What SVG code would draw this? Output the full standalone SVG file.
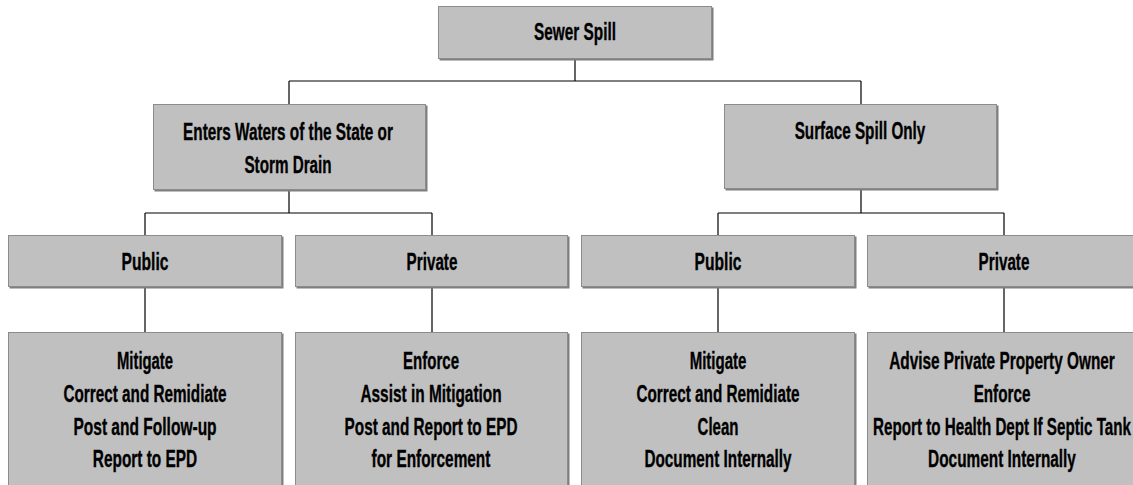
<svg xmlns="http://www.w3.org/2000/svg" width="1133" height="485" viewBox="0 0 1133 485">
<style>
.box{fill:#c0c0c0;stroke:#8c8c8c;stroke-width:1}
.sh{fill:#7f7f7f}
.t{font-family:"Liberation Sans",Arial,sans-serif;font-weight:bold;font-size:23px;fill:#000;stroke:#000;stroke-width:0.35;text-anchor:middle}
.c{stroke:#000;stroke-width:1.2;fill:none}
</style>
<rect width="1133" height="485" fill="#fff"/>
<g id="connectors">
<path class="c" d="M575,59V81M289,81H861M289,81V104M861,81V104"/>
<path class="c" d="M289,190V213M145,213H432M145,213V235M432,213V235"/>
<path class="c" d="M861,189V213M718,213H1004M718,213V235M1004,213V235"/>
<path class="c" d="M145,287V332M432,287V332M718,287V332M1004,287V332"/>
</g>
<g id="n-sewer">
<rect class="sh" x="439.5" y="7.5" width="274" height="53"/>
<rect class="box" x="438.5" y="6.5" width="273" height="52"/>
<g transform="translate(575,0) scale(0.66,1)">
<text class="t" x="0" y="40" textLength="124" lengthAdjust="spacingAndGlyphs">Sewer Spill</text>
</g>
</g>
<g id="n-enters">
<rect class="sh" x="154.5" y="105.5" width="273" height="86"/>
<rect class="box" x="153.5" y="104.5" width="272" height="85"/>
<g transform="translate(288,0) scale(0.66,1)">
<text class="t" x="0" y="140" textLength="318" lengthAdjust="spacingAndGlyphs">Enters Waters of the State or</text>
<text class="t" x="0" y="173" textLength="132" lengthAdjust="spacingAndGlyphs">Storm Drain</text>
</g>
</g>
<g id="n-surface">
<rect class="sh" x="725.5" y="105.5" width="273" height="85"/>
<rect class="box" x="724.5" y="104.5" width="272" height="84"/>
<g transform="translate(860,0) scale(0.66,1)">
<text class="t" x="0" y="139" textLength="198" lengthAdjust="spacingAndGlyphs">Surface Spill Only</text>
</g>
</g>
<g id="n-public1">
<rect class="sh" x="9.5" y="236.5" width="274" height="52"/>
<rect class="box" x="8.5" y="235.5" width="273" height="51"/>
<g transform="translate(145,0) scale(0.66,1)">
<text class="t" x="0" y="270" textLength="71" lengthAdjust="spacingAndGlyphs">Public</text>
</g>
</g>
<g id="n-private1">
<rect class="sh" x="296.5" y="236.5" width="273" height="52"/>
<rect class="box" x="295.5" y="235.5" width="272" height="51"/>
<g transform="translate(432,0) scale(0.66,1)">
<text class="t" x="0" y="270" textLength="77" lengthAdjust="spacingAndGlyphs">Private</text>
</g>
</g>
<g id="n-public2">
<rect class="sh" x="582.5" y="236.5" width="274" height="52"/>
<rect class="box" x="581.5" y="235.5" width="273" height="51"/>
<g transform="translate(718,0) scale(0.66,1)">
<text class="t" x="0" y="270" textLength="71" lengthAdjust="spacingAndGlyphs">Public</text>
</g>
</g>
<g id="n-private2">
<rect class="sh" x="868.5" y="236.5" width="266" height="52"/>
<rect class="box" x="867.5" y="235.5" width="266" height="51"/>
<g transform="translate(1004,0) scale(0.66,1)">
<text class="t" x="0" y="270" textLength="77" lengthAdjust="spacingAndGlyphs">Private</text>
</g>
</g>
<g id="n-actions1">
<rect class="sh" x="9.5" y="333.5" width="274" height="170"/>
<rect class="box" x="8.5" y="332.5" width="273" height="170"/>
<g transform="translate(145,0) scale(0.66,1)">
<text class="t" x="0" y="369" textLength="85" lengthAdjust="spacingAndGlyphs">Mitigate</text>
<text class="t" x="0" y="402" textLength="247" lengthAdjust="spacingAndGlyphs">Correct and Remidiate</text>
<text class="t" x="0" y="435" textLength="217" lengthAdjust="spacingAndGlyphs">Post and Follow-up</text>
<text class="t" x="0" y="467" textLength="158" lengthAdjust="spacingAndGlyphs">Report to EPD</text>
</g>
</g>
<g id="n-actions2">
<rect class="sh" x="296.5" y="333.5" width="273" height="170"/>
<rect class="box" x="295.5" y="332.5" width="272" height="170"/>
<g transform="translate(431,0) scale(0.66,1)">
<text class="t" x="0" y="369" textLength="85" lengthAdjust="spacingAndGlyphs">Enforce</text>
<text class="t" x="0" y="402" textLength="214" lengthAdjust="spacingAndGlyphs">Assist in Mitigation</text>
<text class="t" x="0" y="435" textLength="262" lengthAdjust="spacingAndGlyphs">Post and Report to EPD</text>
<text class="t" x="0" y="467" textLength="180" lengthAdjust="spacingAndGlyphs">for Enforcement</text>
</g>
</g>
<g id="n-actions3">
<rect class="sh" x="582.5" y="333.5" width="274" height="170"/>
<rect class="box" x="581.5" y="332.5" width="273" height="170"/>
<g transform="translate(718,0) scale(0.66,1)">
<text class="t" x="0" y="369" textLength="86" lengthAdjust="spacingAndGlyphs">Mitigate</text>
<text class="t" x="0" y="402" textLength="247" lengthAdjust="spacingAndGlyphs">Correct and Remidiate</text>
<text class="t" x="0" y="435" textLength="62" lengthAdjust="spacingAndGlyphs">Clean</text>
<text class="t" x="0" y="467" textLength="223" lengthAdjust="spacingAndGlyphs">Document Internally</text>
</g>
</g>
<g id="n-actions4">
<rect class="sh" x="868.5" y="333.5" width="266" height="170"/>
<rect class="box" x="867.5" y="332.5" width="266" height="170"/>
<g transform="translate(1002,0) scale(0.66,1)">
<text class="t" x="0" y="369" textLength="342" lengthAdjust="spacingAndGlyphs">Advise Private Property Owner</text>
<text class="t" x="0" y="402" textLength="86" lengthAdjust="spacingAndGlyphs">Enforce</text>
<text class="t" x="0" y="435" textLength="391" lengthAdjust="spacingAndGlyphs">Report to Health Dept If Septic Tank</text>
<text class="t" x="0" y="467" textLength="224" lengthAdjust="spacingAndGlyphs">Document Internally</text>
</g>
</g>
</svg>
